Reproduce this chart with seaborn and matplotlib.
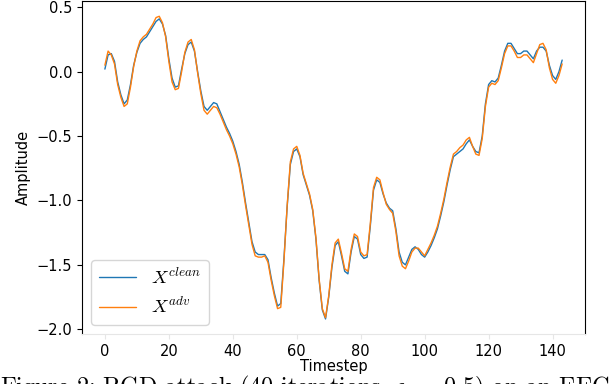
#!/usr/bin/env python3

import matplotlib
matplotlib.use("Agg")
import matplotlib.pyplot as plt
import seaborn as sns
import pandas as pd


# EEG sample, values
timestep = list(range(144))

x_clean = [
    0.02, 0.13, 0.14, 0.08, -0.08, -0.18, -0.25, -0.22, -0.10, 0.05,
    0.15, 0.22, 0.25, 0.27, 0.31, 0.35, 0.39, 0.41, 0.37, 0.28,
    0.10, -0.05, -0.12, -0.11, 0.02, 0.14, 0.21, 0.23, 0.16, 0.00,
    -0.15, -0.27, -0.30, -0.27, -0.24, -0.25, -0.31, -0.37, -0.43, -0.48,
    -0.54, -0.62, -0.72, -0.86, -1.02, -1.17, -1.32, -1.40, -1.42, -1.42,
    -1.42, -1.46, -1.60, -1.72, -1.82, -1.80, -1.45, -1.05, -0.72, -0.62,
    -0.60, -0.66, -0.80, -0.88, -0.96, -1.08, -1.30, -1.62, -1.85, -1.92,
    -1.75, -1.52, -1.35, -1.32, -1.43, -1.55, -1.57, -1.40, -1.28, -1.30,
    -1.42, -1.45, -1.44, -1.20, -0.92, -0.84, -0.86, -0.95, -1.02, -1.06,
    -1.08, -1.22, -1.40, -1.48, -1.50, -1.44, -1.38, -1.36, -1.38, -1.42,
    -1.44, -1.40, -1.35, -1.29, -1.22, -1.12, -1.01, -0.88, -0.76, -0.66,
    -0.64, -0.62, -0.60, -0.56, -0.53, -0.58, -0.62, -0.63, -0.50, -0.25,
    -0.10, -0.07, -0.08, -0.05, 0.05, 0.16, 0.22, 0.22, 0.18, 0.14,
    0.14, 0.16, 0.16, 0.13, 0.10, 0.16, 0.19, 0.19, 0.16, 0.05,
    -0.03, -0.06, 0.00, 0.09,
]

x_adv = [
    0.05, 0.16, 0.13, 0.06, -0.10, -0.20, -0.27, -0.25, -0.12, 0.04,
    0.16, 0.24, 0.27, 0.29, 0.33, 0.37, 0.42, 0.43, 0.38, 0.27,
    0.08, -0.08, -0.14, -0.13, 0.00, 0.15, 0.23, 0.25, 0.17, -0.01,
    -0.17, -0.30, -0.33, -0.30, -0.27, -0.28, -0.33, -0.39, -0.45, -0.50,
    -0.56, -0.64, -0.74, -0.88, -1.04, -1.19, -1.34, -1.43, -1.44, -1.44,
    -1.43, -1.48, -1.62, -1.74, -1.84, -1.83, -1.47, -1.04, -0.70, -0.60,
    -0.58, -0.65, -0.79, -0.87, -0.95, -1.07, -1.29, -1.61, -1.84, -1.91,
    -1.74, -1.50, -1.33, -1.30, -1.41, -1.53, -1.55, -1.38, -1.26, -1.28,
    -1.40, -1.43, -1.42, -1.18, -0.90, -0.82, -0.84, -0.94, -1.03, -1.07,
    -1.10, -1.24, -1.43, -1.51, -1.53, -1.47, -1.40, -1.37, -1.37, -1.40,
    -1.43, -1.38, -1.33, -1.27, -1.20, -1.10, -0.99, -0.86, -0.74, -0.64,
    -0.62, -0.59, -0.57, -0.53, -0.51, -0.58, -0.64, -0.65, -0.52, -0.27,
    -0.12, -0.09, -0.10, -0.07, 0.03, 0.14, 0.20, 0.20, 0.16, 0.11,
    0.11, 0.13, 0.13, 0.10, 0.07, 0.14, 0.21, 0.22, 0.17, 0.03,
    -0.06, -0.09, -0.03, 0.06,
]

label_clean = r"$X^{clean}$"
label_adv = r"$X^{adv}$"
caption = r"Figure 2: PGD attack (40 iterations, $\epsilon\;=\;0.5$) on an EEG"


sns.set_style("ticks", {"axes.edgecolor": "black", "text.color": "black",
                        "xtick.color": "black", "ytick.color": "black",
                        "axes.labelcolor": "black"})
plt.rcParams["font.family"] = ["DejaVu Sans"]
plt.rcParams["mathtext.fontset"] = "cm"

df = pd.DataFrame({"Timestep": timestep, "clean": x_clean, "adv": x_adv})

fig, ax = plt.subplots(figsize=(6.14, 3.84), dpi=100)
plt.subplots_adjust(left=0.1336, right=0.9528, bottom=0.130, top=0.997)

sns.lineplot(data=df, x="Timestep", y="clean", ax=ax, color="tab:blue",
             linewidth=1.0, label=label_clean)
sns.lineplot(data=df, x="Timestep", y="adv", ax=ax, color="tab:orange",
             linewidth=1.0, label=label_adv)

ax.set_xlabel("Timestep", fontsize=10.5, labelpad=0)
ax.set_ylabel("Amplitude", fontsize=10.5)
ax.tick_params(labelsize=10.5)
ax.set_xticks([0, 20, 40, 60, 80, 100, 120, 140])
ax.set_yticks([0.5, 0.0, -0.5, -1.0, -1.5, -2.0])
ax.spines["bottom"].set_color("#e6e6e6")
ax.tick_params(axis="x", color="#e6e6e6")

ax.legend(loc="lower left", fontsize=13.5)

fig.text(0.0, -0.026, caption, fontsize=17.4, family="cmr10",
         ha="left", va="baseline")

plt.savefig("out.png", dpi=100)
plt.close()
